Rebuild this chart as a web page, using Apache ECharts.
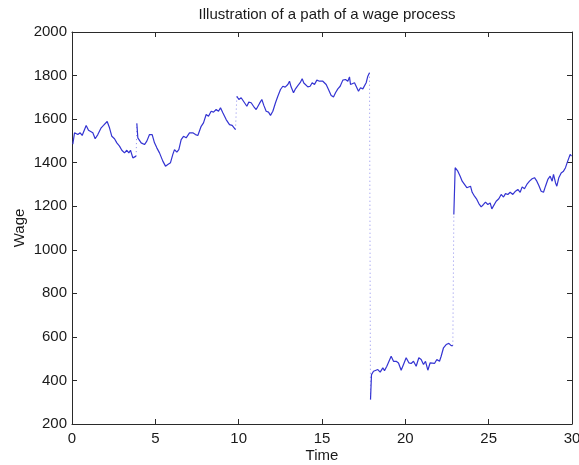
<!DOCTYPE html>
<html>
<head>
<meta charset="utf-8">
<title>Illustration of a path of a wage process</title>
<script src="https://cdn.jsdelivr.net/npm/echarts@6/dist/echarts.min.js"></script>
<style>
  html, body { margin: 0; padding: 0; background: #ffffff; }
  #chart { width: 579px; height: 465px; }
</style>
</head>
<body>
<div id="chart"></div>
<script>
// Wage path, one pair of arrays per employment spell (time, wage).
const seg1Time = [0.05, 0.15, 0.35, 0.49, 0.61, 0.85, 0.99, 1.11, 1.25, 1.39, 1.55, 1.75, 1.89, 2.11, 2.25, 2.39, 2.55, 2.69, 2.85, 2.99, 3.15, 3.29, 3.41, 3.51, 3.65, 3.75, 3.85];
const seg1Wage = [1485, 1537, 1529, 1537, 1525, 1571, 1549, 1556, 1537, 1510, 1529, 1560, 1571, 1589, 1560, 1521, 1510, 1491, 1476, 1457, 1445, 1457, 1445, 1457, 1422, 1415, 1430];

const seg2Time = [3.89, 3.95, 4.15, 4.35, 4.49, 4.65, 4.81, 4.95, 5.09, 5.25, 5.45, 5.61, 5.75, 5.91, 6.05, 6.15, 6.29, 6.41, 6.55, 6.69, 6.85, 7.05, 7.25, 7.41, 7.55, 7.75, 7.89, 8.05, 8.19, 8.35, 8.49, 8.65, 8.79, 8.91, 9.05, 9.25, 9.45, 9.61, 9.81];
const seg2Wage = [1580, 1514, 1491, 1483, 1499, 1529, 1529, 1491, 1468, 1445, 1407, 1384, 1392, 1400, 1438, 1460, 1448, 1460, 1506, 1521, 1514, 1537, 1537, 1529, 1525, 1567, 1583, 1621, 1613, 1636, 1632, 1644, 1636, 1652, 1629, 1598, 1575, 1571, 1552];

const seg3Time = [9.89, 10.01, 10.15, 10.35, 10.49, 10.61, 10.75, 10.89, 11.05, 11.25, 11.39, 11.51, 11.65, 11.79, 11.91, 12.05, 12.21, 12.35, 12.51, 12.65, 12.79, 12.95, 13.05, 13.15, 13.29, 13.41, 13.55, 13.69, 13.81, 13.91, 14.01, 14.15, 14.29, 14.41, 14.55, 14.69, 14.85, 15.05, 15.25, 15.39, 15.55, 15.69, 15.81, 15.95, 16.09, 16.25, 16.41, 16.55, 16.65, 16.71, 16.81, 16.95, 17.05, 17.19, 17.31, 17.45, 17.55, 17.65, 17.75, 17.85];
const seg3Wage = [1705, 1690, 1698, 1675, 1659, 1678, 1675, 1659, 1644, 1672, 1690, 1663, 1636, 1632, 1617, 1636, 1675, 1705, 1736, 1751, 1747, 1759, 1774, 1747, 1721, 1739, 1754, 1767, 1785, 1766, 1766, 1748, 1751, 1767, 1759, 1779, 1774, 1774, 1759, 1736, 1708, 1702, 1721, 1739, 1751, 1779, 1782, 1774, 1794, 1759, 1766, 1767, 1759, 1728, 1744, 1739, 1742, 1767, 1797, 1813];

const seg4Time = [17.91, 17.97, 18.09, 18.21, 18.35, 18.49, 18.65, 18.75, 18.89, 19.01, 19.15, 19.29, 19.45, 19.59, 19.75, 19.89, 20.05, 20.21, 20.35, 20.49, 20.65, 20.81, 20.95, 21.09, 21.21, 21.35, 21.49, 21.61, 21.75, 21.89, 22.05, 22.15, 22.29, 22.45, 22.61, 22.75, 22.85];
const seg4Wage = [312, 427, 442, 435, 450, 438, 458, 445, 465, 470, 511, 488, 488, 480, 447, 473, 504, 481, 478, 488, 465, 504, 496, 473, 488, 447, 481, 488, 478, 496, 488, 511, 550, 565, 570, 560, 560];

const seg5Time = [22.91, 22.99, 23.15, 23.29, 23.41, 23.55, 23.69, 23.81, 23.91, 24.01, 24.15, 24.29, 24.41, 24.55, 24.69, 24.81, 24.95, 25.09, 25.19, 25.31, 25.45, 25.61, 25.75, 25.89, 26.01, 26.15, 26.29, 26.45, 26.61, 26.75, 26.89, 27.01, 27.15, 27.29, 27.45, 27.61, 27.75, 27.89, 28.01, 28.15, 28.29, 28.41, 28.55, 28.69, 28.81, 28.89, 29.01, 29.09, 29.21, 29.35, 29.49, 29.61, 29.71, 29.81, 29.89, 29.97];
const seg5Wage = [1162, 1377, 1361, 1338, 1315, 1300, 1285, 1280, 1292, 1264, 1246, 1231, 1212, 1197, 1208, 1219, 1208, 1215, 1188, 1185, 1223, 1234, 1254, 1242, 1258, 1254, 1264, 1254, 1269, 1277, 1264, 1289, 1280, 1300, 1315, 1326, 1331, 1315, 1295, 1269, 1264, 1292, 1323, 1338, 1315, 1346, 1308, 1292, 1331, 1353, 1361, 1377, 1400, 1407, 1438, 1430];

// Axis ticks
const timeTicks = [0, 5, 10, 15, 20, 25, 30];
const wageTicks = [200, 400, 600, 800, 1000, 1200, 1400, 1600, 1800, 2000];

const FONT = 'Liberation Sans, Arial, Helvetica, sans-serif';
const LINE_BLUE = '#3434d2';
const JUMP_BLUE = '#8c8cec';
const FRAME = '#2a2a2a';
const TEXT = '#1a1a1a';

const segments = [
  [seg1Time, seg1Wage],
  [seg2Time, seg2Wage],
  [seg3Time, seg3Wage],
  [seg4Time, seg4Wage],
  [seg5Time, seg5Wage]
];

const pairUp = (t, w) => t.map((x, i) => [x, w[i]]);

// Dotted connectors at each job change: end of one spell to start of the next
const jumpSeries = [];
for (let i = 0; i < segments.length - 1; i++) {
  const [ta, wa] = segments[i];
  const [tb, wb] = segments[i + 1];
  jumpSeries.push({
    type: 'line',
    data: [[ta[ta.length - 1], wa[wa.length - 1]], [tb[0], wb[0]]],
    showSymbol: false,
    symbol: 'none',
    silent: true,
    lineStyle: { color: JUMP_BLUE, width: 1, type: [1, 3] }
  });
}

const pathSeries = segments.map(([t, w]) => ({
  type: 'line',
  data: pairUp(t, w),
  showSymbol: false,
  symbol: 'none',
  silent: true,
  lineStyle: { color: LINE_BLUE, width: 1.2 }
}));

const tMin = timeTicks[0], tMax = timeTicks[timeTicks.length - 1];
const wMin = wageTicks[0], wMax = wageTicks[wageTicks.length - 1];

function frameAxis(extra) {
  return Object.assign({
    type: 'value',
    axisLine: { show: true, onZero: false, lineStyle: { color: FRAME, width: 1 } },
    axisTick: { show: true, inside: true, length: 5, lineStyle: { color: FRAME, width: 1 } },
    splitLine: { show: false }
  }, extra);
}

const chart = echarts.init(document.getElementById('chart'), null, { renderer: 'canvas' });
chart.setOption({
  animation: false,
  backgroundColor: '#ffffff',
  title: {
    text: 'Illustration of a path of a wage process',
    left: 322,
    top: 2,
    textAlign: 'center',
    textStyle: { fontFamily: FONT, fontSize: 15, fontWeight: 'normal', color: TEXT }
  },
  grid: { left: 72, top: 32, width: 500, height: 392, containLabel: false, outerBoundsMode: 'none' },
  xAxis: [
    frameAxis({
      position: 'bottom', min: tMin, max: tMax, interval: 5,
      axisLabel: { fontFamily: FONT, fontSize: 15, color: TEXT, margin: 7 },
      name: 'Time', nameLocation: 'middle', nameGap: 24, nameMoveOverlap: false,
      nameTextStyle: { fontFamily: FONT, fontSize: 15, color: TEXT }
    }),
    frameAxis({
      position: 'top', min: tMin, max: tMax, interval: 5,
      axisLabel: { show: false }
    })
  ],
  yAxis: [
    frameAxis({
      position: 'left', min: wMin, max: wMax, interval: 200,
      axisLabel: { fontFamily: FONT, fontSize: 15, color: TEXT, margin: 5, formatter: (v) => String(v) },
      name: 'Wage', nameLocation: 'middle', nameGap: 45, nameRotate: 90, nameMoveOverlap: false,
      nameTextStyle: { fontFamily: FONT, fontSize: 15, color: TEXT }
    }),
    frameAxis({
      position: 'right', min: wMin, max: wMax, interval: 200,
      axisLabel: { show: false }
    })
  ],
  series: jumpSeries.concat(pathSeries)
});
</script>
</body>
</html>
